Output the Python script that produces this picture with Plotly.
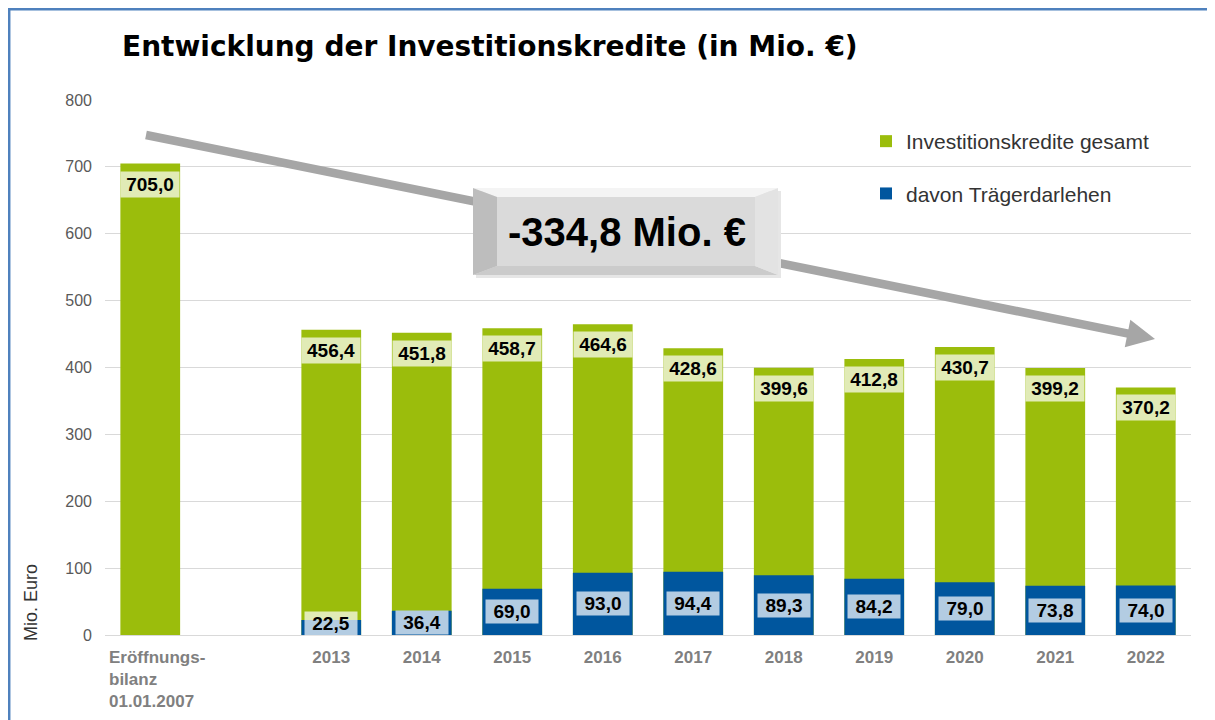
import math
import plotly.graph_objects as go

# ---------------- data ----------------
categories = ["Eröffnungsbilanz", "", "2013", "2014", "2015", "2016", "2017",
              "2018", "2019", "2020", "2021", "2022"]
tick_labels = ["", "", "2013", "2014", "2015", "2016", "2017",
               "2018", "2019", "2020", "2021", "2022"]
total_credit = [705.0, None, 456.4, 451.8, 458.7, 464.6, 428.6,
                399.6, 412.8, 430.7, 399.2, 370.2]
carrier_loans = [None, None, 22.5, 36.4, 69.0, 93.0, 94.4,
                 89.3, 84.2, 79.0, 73.8, 74.0]
first_label = "Eröffnungs-<br>bilanz<br>01.01.2007"
change_label = "-334,8 Mio. €"
title_text = "Entwicklung der Investitionskredite (in Mio. €)"

GREEN = "#9bbd0c"
BLUE = "#00569e"
FONT = "Liberation Sans, Arial, sans-serif"

OFF = 8  # page body margin
W, H = 1215 - OFF, 720 - OFF
ML, MR, MT, MB = 105 - OFF, 24, 100 - OFF, 85
PW, PH = W - ML - MR, H - MT - MB


def px(x):  # reference-pixel x -> paper
    return (x - OFF - ML) / PW


def py(y):  # reference-pixel y -> paper
    return (H - MB - (y - OFF)) / PH


def fmt(v):
    return f"{v:.1f}".replace(".", ",")


xpos = list(range(len(categories)))

fig = go.Figure()
fig.add_trace(go.Bar(x=xpos, y=total_credit, name="Investitionskredite gesamt",
                     marker=dict(color=GREEN, line=dict(width=0)), width=0.66,
                     legendgroup="a", hoverinfo="skip"))
fig.add_trace(go.Bar(x=xpos, y=carrier_loans, name="davon Trägerdarlehen",
                     marker=dict(color=BLUE, line=dict(width=0)), width=0.66,
                     legendgroup="b", hoverinfo="skip"))

annotations = []
for i, v in enumerate(total_credit):
    if v is None:
        continue
    annotations.append(dict(x=i, y=v, xref="x", yref="y", text=f"<b>{fmt(v)}</b>",
                            showarrow=False, xanchor="center", yanchor="top", yshift=-7,
                            width=58, height=25, borderpad=0,
                            bgcolor="rgba(255,255,255,0.7)",
                            font=dict(family=FONT, size=19, color="#000000")))
for i, v in enumerate(carrier_loans):
    if v is None:
        continue
    annotations.append(dict(x=i, y=max(v / 2, 16.5), xref="x", yref="y",
                            text=f"<b>{fmt(v)}</b>",
                            showarrow=False, xanchor="center", yanchor="middle",
                            width=52, height=23, borderpad=0,
                            bgcolor="rgba(255,255,255,0.7)",
                            font=dict(family=FONT, size=19, color="#000000")))

# first category label (left aligned multi-line)
annotations.append(dict(x=px(107), y=py(646), xref="paper", yref="paper",
                        text=f"<b>{first_label}</b>", showarrow=False, xanchor="left",
                        yanchor="top", align="left",
                        font=dict(family=FONT, size=17, color="#808080")))
# y axis title
annotations.append(dict(x=px(31), y=py(603), xref="paper", yref="paper",
                        text="Mio. Euro", showarrow=False, textangle=-90,
                        xanchor="center", yanchor="middle",
                        font=dict(family=FONT, size=18, color="#333333")))
# change box text
annotations.append(dict(x=px(627), y=py(232), xref="paper", yref="paper",
                        text=f"<b>{change_label}</b>", showarrow=False,
                        xanchor="center", yanchor="middle",
                        font=dict(family=FONT, size=40, color="#000000")))

shapes = []
# frame lines
shapes.append(dict(type="line", xref="paper", yref="paper", x0=px(9.2), x1=px(9.2),
                   y0=py(8), y1=py(730), line=dict(color="#4f81bd", width=2.5)))
shapes.append(dict(type="line", xref="paper", yref="paper", x0=px(8), x1=px(1230),
                   y0=py(9.2), y1=py(9.2), line=dict(color="#4f81bd", width=2.5)))

# trend arrow (shaft + head)
tx, ty = 146, 135
hx, hy = 1155, 339
dx, dy = hx - tx, hy - ty
L = math.hypot(dx, dy)
ux, uy = dx / L, dy / L
nx, ny = -uy, ux
hl, hw = 28, 14
bx, by = hx - hl * ux, hy - hl * uy
shapes.append(dict(type="line", xref="paper", yref="paper", x0=px(tx), y0=py(ty),
                   x1=px(bx + 2 * ux), y1=py(by + 2 * uy),
                   line=dict(color="#a6a6a6", width=8.5), layer="above"))
head = (f"M {px(hx)} {py(hy)} L {px(bx + hw * nx)} {py(by + hw * ny)} "
        f"L {px(bx - hw * nx)} {py(by - hw * ny)} Z")
shapes.append(dict(type="path", xref="paper", yref="paper", path=head,
                   fillcolor="#a6a6a6", line=dict(width=0), layer="above"))


# bevel box
def poly(pts, color):
    d = "M " + " L ".join(f"{px(a)} {py(b)}" for a, b in pts) + " Z"
    return dict(type="path", xref="paper", yref="paper", path=d,
                fillcolor=color, line=dict(width=0), layer="above")


X0, X1, Y0, Y1 = 473, 778, 188, 275
I0, I1, J0, J1 = 497, 755, 197, 266
shapes.append(poly([(X0 + 3, Y0 + 3), (X1 + 3, Y0 + 3), (X1 + 3, Y1 + 3), (X0 + 3, Y1 + 3)], "#e6e6e6"))
shapes.append(poly([(X0, Y0), (X1, Y0), (I1, J0), (I0, J0)], "#f4f4f4"))
shapes.append(poly([(X0, Y1), (X1, Y1), (I1, J1), (I0, J1)], "#cbcbcb"))
shapes.append(poly([(X0, Y0), (I0, J0), (I0, J1), (X0, Y1)], "#bdbdbd"))
shapes.append(poly([(X1, Y0), (I1, J0), (I1, J1), (X1, Y1)], "#e3e3e3"))
shapes.append(poly([(I0, J0), (I1, J0), (I1, J1), (I0, J1)], "#dadada"))

fig.update_layout(
    width=W, height=H,
    margin=dict(l=ML, r=MR, t=MT, b=MB, autoexpand=False),
    paper_bgcolor="white", plot_bgcolor="white",
    barmode="overlay",
    title=dict(text=f"<b>{title_text}</b>", xref="container", yref="container",
               x=(122 - OFF) / W, xanchor="left", y=1 - (46 - OFF) / H, yanchor="middle",
               font=dict(family="DejaVu Sans, Verdana, sans-serif", size=28, color="#000000")),
    xaxis=dict(range=[-0.5, len(categories) - 0.5], tickmode="array",
               tickvals=xpos, ticktext=tick_labels, showgrid=False,
               showline=True, linecolor="#d9d9d9", linewidth=1, ticks="",
               ticklabelstandoff=7,
               tickfont=dict(family=FONT, size=17, color="#808080", weight="bold"),
               zeroline=False, fixedrange=True),
    yaxis=dict(range=[0, 800], tickvals=[0, 100, 200, 300, 400, 500, 600, 700, 800],
               showgrid=True, gridcolor="#d9d9d9", gridwidth=1, zeroline=False,
               ticks="", ticklabelstandoff=12, showline=False,
               tickfont=dict(family=FONT, size=16, color="#595959"), fixedrange=True),
    legend=dict(x=px(866), y=py(121), xanchor="left", yanchor="top",
                traceorder="grouped", tracegroupgap=22, itemwidth=30,
                font=dict(family=FONT, size=21, color="#333333"),
                bgcolor="rgba(0,0,0,0)"),
    annotations=annotations,
    shapes=shapes,
    showlegend=True,
)

fig.write_html("out.html")
